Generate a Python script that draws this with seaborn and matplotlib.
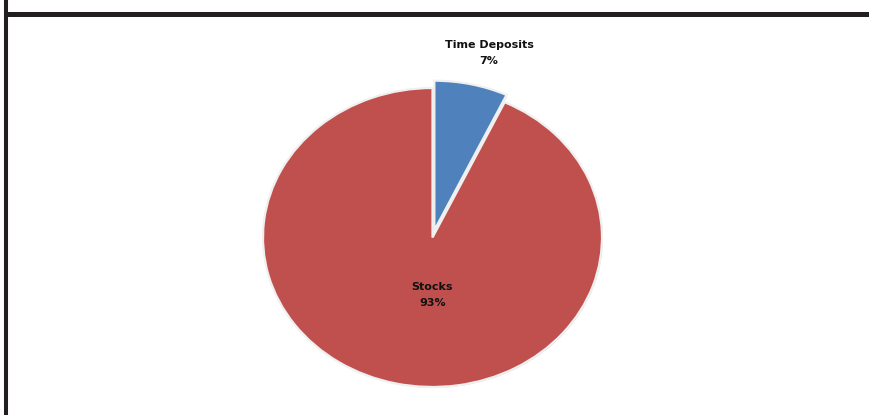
import numpy as np
import matplotlib.pyplot as plt
import matplotlib.patheffects as pe
from matplotlib.lines import Line2D
import seaborn as sns

categories = ['Time Deposits', 'Stocks']
shares = [7, 93]
explode = [0.05, 0.0]

sns.set_theme(style='white')
plt.rcParams['font.family'] = ['DejaVu Sans']
colors = sns.color_palette(['#4F81BD', '#C0504D'])

fig = plt.figure(figsize=(8.7, 4.15), dpi=100)
ax = fig.add_axes([0, 0, 1, 1])

wedges, _ = ax.pie(shares, colors=colors, startangle=90, counterclock=False,
                   explode=explode,
                   wedgeprops=dict(edgecolor='#f0f0f0', linewidth=1.6))
for w in wedges:
    w.set_path_effects([pe.SimplePatchShadow(offset=(0.6, -0.6), shadow_rgbFace='#a0a0a0', alpha=0.5),
                        pe.Normal()])

# ellipse-shaped pie like the original
ax.set_aspect('auto')
ax.set_xlim(-2.5516, 2.5811)
ax.set_ylim(-1.1873, 1.5886)
ax.axis('off')

# labels
label_pos = [(0.333, 1.234), (0.0, -0.385)]
for name, val, (lx, ly) in zip(categories, shares, label_pos):
    ax.text(lx, ly, f'{name}\n{val}%', ha='center', va='center',
            multialignment='center', fontsize=8, fontweight='bold',
            color='#111111', linespacing=1.75)

# frame lines of the surrounding slide
fig.add_artist(Line2D([4 / 870, 1], [1 - 14.5 / 415] * 2, color='#231f20', lw=3.6,
                      solid_capstyle='butt', transform=fig.transFigure))
fig.add_artist(Line2D([6 / 870] * 2, [0, 1], color='#231f20', lw=2.9,
                      solid_capstyle='butt', transform=fig.transFigure))

fig.savefig('out.png', dpi=100, facecolor='white')
